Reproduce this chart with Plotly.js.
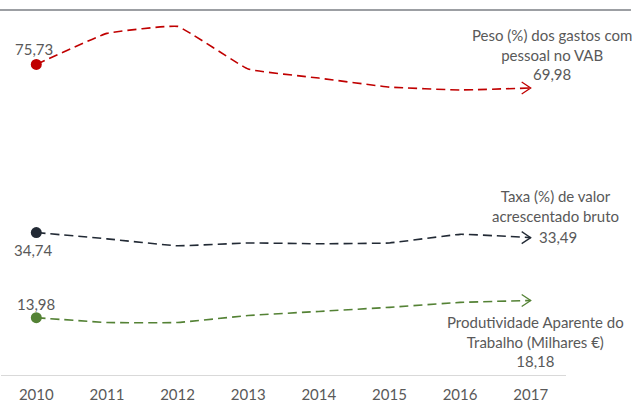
<!DOCTYPE html>
<html>
<head>
<meta charset="utf-8">
<script src="https://cdn.plot.ly/plotly-3.0.1.min.js"></script>
<style>html,body{margin:0;padding:0;background:#fff;}#chart{width:638px;height:403px;}</style>
</head>
<body>
<div id="chart"></div>
<script>
const years = ['2010','2011','2012','2013','2014','2015','2016','2017'];
const pesoGastos = [75.73, 83.3, 85.0, 74.6, 72.4, 70.2, 69.5, 69.98];
const taxaVab = [34.74, 33.2, 31.5, 32.2, 32.0, 32.2, 34.3, 33.49];
const produtividade = [13.98, 12.8, 12.8, 14.5, 15.5, 16.5, 17.7, 18.18];

const pesoLabel = 'Peso (%) dos gastos com<br>pessoal no VAB';
const taxaLabel = 'Taxa (%) de valor<br>acrescentado bruto';
const prodLabel = 'Produtividade Aparente do<br>Trabalho (Milhares €)';

const red = '#c00000', navy = '#222a35', green = '#548235', txt = '#595959';
const fmt = v => v.toFixed(2).replace('.', ',');
const FONT = 'Lato, "Open Sans", sans-serif';

function lineTrace(y, color) {
  return {x: years, y: y, type: 'scatter', mode: 'lines',
    line: {color: color, width: 1.6, dash: '9px,5px', shape: 'spline', smoothing: 0.28},
    hoverinfo: 'skip', showlegend: false};
}
function startMarker(y, color) {
  return {x: [years[0]], y: [y[0]], type: 'scatter', mode: 'markers',
    marker: {color: color, size: 11}, hoverinfo: 'skip', showlegend: false};
}
const series = [[pesoGastos, red], [taxaVab, navy], [produtividade, green]];
const data = [];
series.forEach(([y, c]) => { data.push(lineTrace(y, c)); data.push(startMarker(y, c)); });

const shapes = [{type: 'line', xref: 'paper', yref: 'paper', x0: -0.002, x1: 1.115, y0: 1, y1: 1,
  line: {color: '#3b4048', width: 1.2}}];
series.forEach(([y, c]) => {
  shapes.push({type: 'path', xref: 'x', yref: 'y', xsizemode: 'pixel', ysizemode: 'pixel',
    xanchor: years.length - 1, yanchor: y[y.length - 1], path: 'M-9,-6L0,0L-9,6',
    line: {color: c, width: 1.3}});
});

const ann = (x, y, text, xs, ys, xa) => ({x: x, y: y, xref: 'x', yref: 'y', text: text,
  showarrow: false, xshift: xs, yshift: ys, xanchor: xa || 'center', yanchor: 'middle',
  align: 'center', font: {family: FONT, size: 15, color: txt}});

const annotations = [
  ann(0, pesoGastos[0], fmt(pesoGastos[0]), -2, 15),
  ann(7, pesoGastos[7], pesoLabel + '<br>' + fmt(pesoGastos[7]), 21, 34),
  ann(0, taxaVab[0], fmt(taxaVab[0]), -3, -17),
  ann(7, taxaVab[7], taxaLabel, 25, 32),
  ann(7, taxaVab[7], fmt(taxaVab[7]), 6, 1, 'left'),
  ann(0, produtividade[0], fmt(produtividade[0]), 0, 14),
  ann(7, produtividade[7], prodLabel + '<br>' + fmt(produtividade[7]), 5, -41)
];

const layout = {
  width: 638, height: 403,
  margin: {l: 1, r: 72, t: 10, b: 28},
  paper_bgcolor: '#fff', plot_bgcolor: '#fff',
  font: {family: FONT, color: txt},
  xaxis: {type: 'category', range: [-0.5, 7.5], showline: true, linecolor: '#d9d9d9', linewidth: 1,
    showgrid: false, zeroline: false, ticks: '', ticklabelstandoff: 6,
    tickfont: {family: FONT, size: 15, color: txt}, fixedrange: true},
  yaxis: {range: [0, 89], showgrid: false, zeroline: false, showticklabels: false, showline: false,
    ticks: '', fixedrange: true},
  shapes: shapes,
  annotations: annotations,
  showlegend: false
};
Plotly.newPlot('chart', data, layout, {displayModeBar: false, staticPlot: true});
</script>
</body>
</html>
